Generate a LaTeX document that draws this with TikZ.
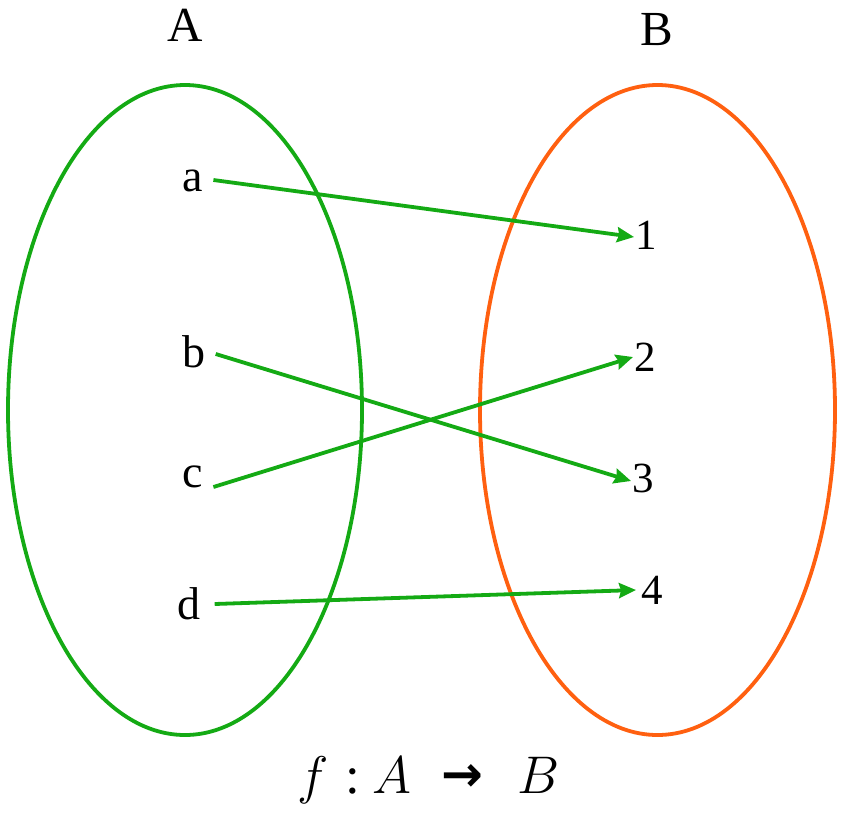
\documentclass[tikz,border=0pt]{standalone}
\usepackage{fix-cm}
\usepackage{fontspec}
\setmainfont{Liberation Serif}
\newfontfamily\arrowfont{DejaVu Sans}[BoldFont={DejaVu Sans Bold}]
\usetikzlibrary{arrows.meta}
\definecolor{setgreen}{RGB}{20,170,20}
\definecolor{setorange}{RGB}{255,96,16}
\tikzset{
  setline/.style={line width=3.8pt},
  elem/.style={font=\fontsize{46}{50}\selectfont, inner sep=0pt},
  src/.style={elem, inner xsep=10pt},
  dst/.style={font=\fontsize{43}{48}\selectfont, inner sep=0pt, inner xsep=1pt},
  setname/.style={font=\fontsize{49}{54}\selectfont, inner sep=0pt},
  fpart/.style={font=\fontsize{53}{58}\selectfont, inner sep=0pt, anchor=base},
  maparrow/.style={setgreen, line width=3.8pt, -{Stealth[length=17pt,width=15pt,inset=2pt]}}
}
\begin{document}
\begin{tikzpicture}[x=1pt,y=-1pt]
\useasboundingbox (0,0) rectangle (841,812);
\draw[setline, setgreen] (185,410) ellipse [x radius=177, y radius=325];
\draw[setline, setorange] (657.5,410) ellipse [x radius=177.5, y radius=325];
\node[setname] (A) at (185,25) {A};
\node[setname] (B) at (657,30) {B};
\node[src] (a) at (193,181) {a};
\node[src] (b) at (194,352) {b};
\node[src] (c) at (193,477) {c};
\node[src] (d) at (189,604) {d};
\node[dst] (n1) at (646,235) {1};
\node[dst] (n2) at (645,357) {2};
\node[dst] (n3) at (643,478) {3};
\node[dst] (n4) at (652,590) {4};
\draw[maparrow] ([yshift=1pt]a.east) -- ([yshift=-2pt]n1.west);
\draw[maparrow] ([yshift=-2pt]b.east) -- ([yshift=-3pt]n3.west);
\draw[maparrow] ([yshift=-10pt]c.east) -- (n2.west);
\draw[maparrow] ([xshift=4pt]d.east) -- ([xshift=-4pt]n4.west);
\node[fpart] (ff) at (313,793) {$f$};
\node[fpart] (fcolon) at (353,793) {:};
\node[fpart] (fA) at (392,793) {$A$};
\node[fpart, font=\fontsize{50}{56}\selectfont\arrowfont\bfseries] (farrow) at (462,791) {→};
\node[fpart] (fB) at (539,793) {$B$};
\end{tikzpicture}
\end{document}
